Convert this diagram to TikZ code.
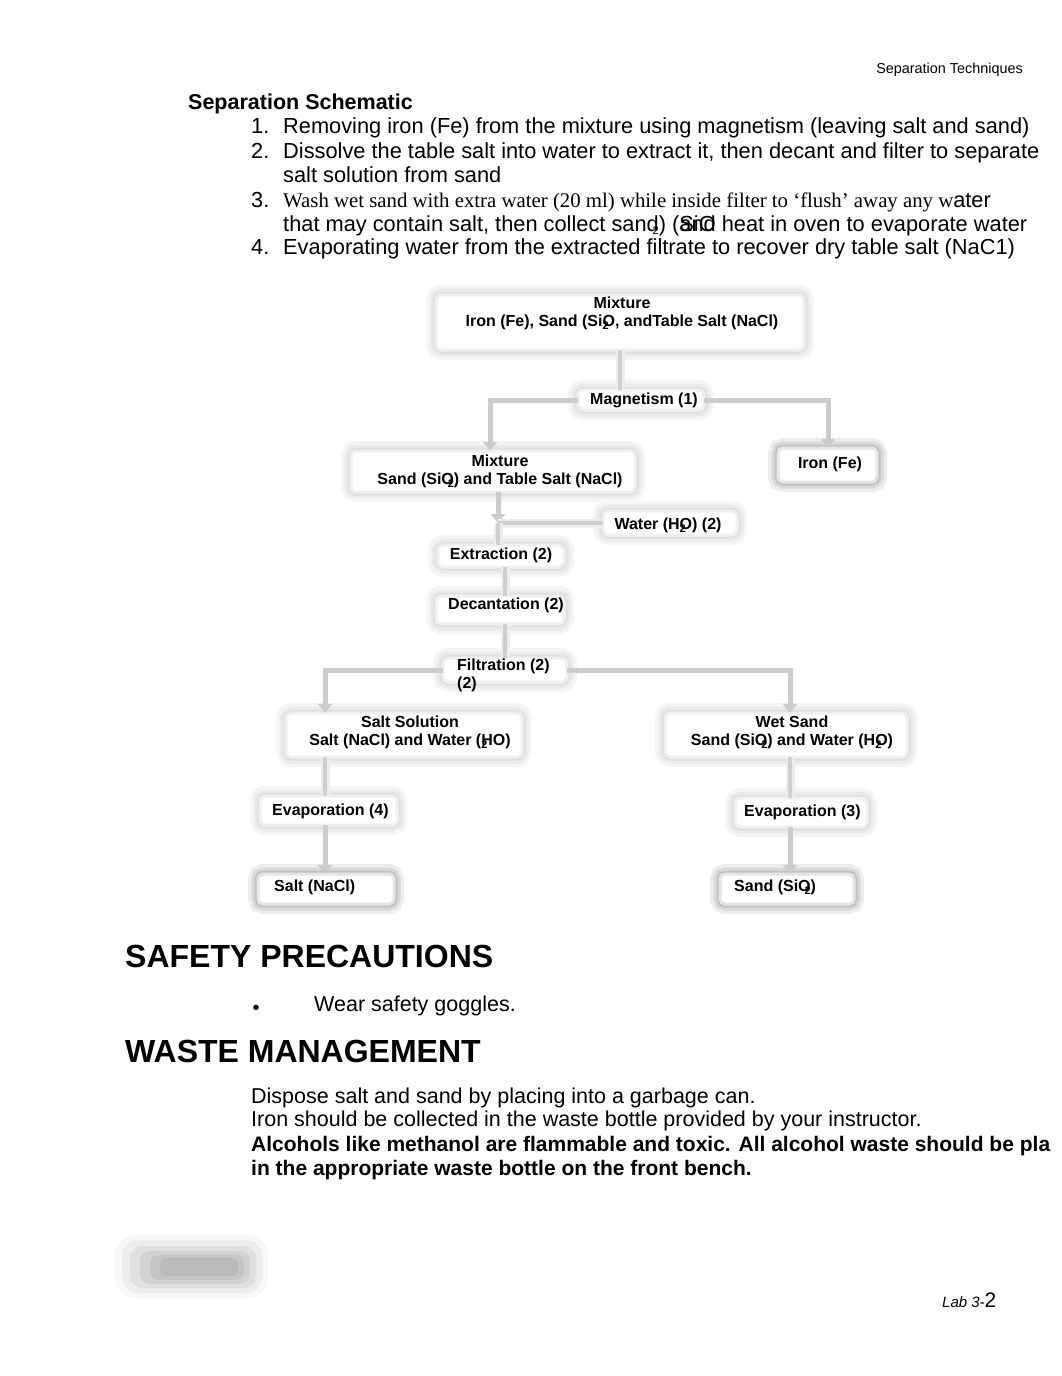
\documentclass[tikz,border=0pt]{standalone}
\usepackage{fontspec}
\setmainfont{Liberation Sans}
\newfontfamily\serifface{Liberation Serif}
\usetikzlibrary{arrows.meta}
\newcommand\fsz[1]{\fontsize{#1}{#1}\selectfont}
\newcommand\ovtwo{\rlap{\raisebox{-3pt}{\fsz{11}2}}}
\newcommand\bktwo{\llap{\raisebox{-3pt}{\fsz{11}2}}}
\tikzset{
  txt/.style={inner sep=0pt, anchor=base west},
  dtxt/.style={inner sep=0pt, align=center, font=\bfseries\fontsize{16}{18}\selectfont},
  box/.style={rectangle, rounded corners=5pt, inner sep=0pt, fill=white,
    preaction={draw=black!4, line width=20pt},
    preaction={draw=black!8, line width=13pt},
    preaction={draw=black!12, line width=7pt},
    postaction={draw=black!6, line width=3pt}},
  darkbox/.style={rectangle, rounded corners=5pt, inner sep=0pt, fill=white,
    preaction={draw=black!7, line width=20pt},
    preaction={draw=black!15, line width=13pt},
    preaction={draw=black!24, line width=7pt},
    postaction={draw=black!10, line width=3pt}},
  conn/.style={draw=black!19, line width=4pt, preaction={draw=black!7, line width=9pt}},
  arr/.style={draw=black!20, line width=5pt, -{Triangle[length=9pt,width=14pt]}},
}
\begin{document}
\begin{tikzpicture}[x=1pt,y=-1pt]
\fill[white] (0,0) rectangle (1062,1376);
\useasboundingbox (0,0) rectangle (1062,1376);

% header
\node[inner sep=0pt, anchor=base east, font=\fsz{14.4}] (hdr) at (1023,73) {Separation Techniques};
\node[txt, font=\bfseries\fsz{21.5}] (title) at (188,109) {Separation Schematic};

\begin{scope}[every node/.style={txt, font=\fsz{21.8}}]
\node (l1n) at (251,133) {1.};
\node (l1) at (283,133) {Removing iron (Fe) from the mixture using magnetism (leaving salt and sand)};
\node (l2n) at (251,158) {2.};
\node (l2) at (283,158) {Dissolve the table salt into water to extract it, then decant and filter to separate};
\node (l2b) at (283,182) {salt solution from sand};
\node (l3n) at (251,207) {3.};
\node (l3) at (283,207) {{\serifface\fsz{20.8}Wash wet sand with extra water (20 ml) while inside filter to ‘flush’ away any w}ater};
\node (l3b) at (283,231) {that may contain salt, then collect sand\bktwo) (\rlap{SiO}and heat in oven to evaporate water};
\node (l4n) at (251,254) {4.};
\node (l4) at (283,254) {Evaporating water from the extracted filtrate to recover dry table salt (NaC1)};
\end{scope}

% diagram boxes
\node[box, minimum width=368pt, minimum height=55pt] (mix1) at (620,322.5) {};
\node[box, minimum width=126pt, minimum height=20pt] (mag) at (641,400) {};
\node[box, minimum width=284pt, minimum height=41pt] (mix2) at (493,471.5) {};
\node[darkbox, minimum width=99pt, minimum height=34pt] (iron) at (827.5,465) {};
\node[box, minimum width=134pt, minimum height=24pt] (water) at (670,523) {};
\node[box, minimum width=126pt, minimum height=22pt] (extr) at (501,556) {};
\node[box, minimum width=128pt, minimum height=28pt] (dec) at (500,610) {};
\node[box, minimum width=124pt, minimum height=24pt] (filt) at (505,670) {};
\node[box, minimum width=236pt, minimum height=44pt] (salsol) at (404,735) {};
\node[box, minimum width=242pt, minimum height=44pt] (wet) at (786,735) {};
\node[box, minimum width=137pt, minimum height=29pt] (ev4) at (328.5,810.5) {};
\node[box, minimum width=132pt, minimum height=29pt] (ev3) at (801,812.5) {};
\node[darkbox, minimum width=136pt, minimum height=30pt] (salt) at (326,889) {};
\node[darkbox, minimum width=134pt, minimum height=30pt] (sand) at (787,889) {};

% connectors
\coordinate (j1) at (498,523);
\draw[conn] (620,0 |- mix1.south) -- (620,0 |- mag.north);
\draw[arr] (mag.west) -| (490,0 |- mix2.north);
\draw[arr] (mag.east) -| (828,0 |- iron.north);
\draw[arr] (498,0 |- mix2.south) -- (j1);
\draw[conn] (water.west) -- (j1);
\draw[conn] (j1) -- (498,0 |- extr.north);
\draw[conn] (505,0 |- extr.south) -- (505,0 |- dec.north);
\draw[conn] (505,0 |- dec.south) -- (505,0 |- filt.north);
\draw[arr] (filt.west) -| (325,0 |- salsol.north);
\draw[arr] (filt.east) -| (790,0 |- wet.north);
\draw[conn] (325,0 |- salsol.south) -- (325,0 |- ev4.north);
\draw[arr] (325,0 |- ev4.south) -- (325,0 |- salt.north);
\draw[conn] (790,0 |- wet.south) -- (790,0 |- ev3.north);
\draw[arr] (790,0 |- ev3.south) -- (790,0 |- sand.north);

% diagram texts
\node[dtxt] (t1) at (622,313) {Mixture\\Iron (Fe), Sand (Si\ovtwo O, andTable Salt (NaCl)};
\node[dtxt] (t2) at (644,400) {Magnetism (1)};
\node[dtxt] (t3) at (500,471) {Mixture\\Sand (SiO\bktwo) and Table Salt (NaCl)};
\node[dtxt] (t4) at (830,464) {Iron (Fe)};
\node[dtxt] (t5) at (668,525) {Water (H\ovtwo O) (2)};
\node[dtxt] (t6) at (501,555) {Extraction (2)};
\node[dtxt] (t7) at (506,605) {Decantation (2)};
\node[dtxt, align=left, anchor=west] (t8) at (457,675) {Filtration (2)\\(2)};
\node[dtxt] (t9) at (410,732) {Salt Solution\\Salt (NaCl) and Water (\ovtwo HO)};
\node[dtxt] (t10) at (792,732) {Wet Sand\\Sand (SiO\bktwo) and Water (H\ovtwo O)};
\node[dtxt, anchor=west] (t11) at (272,811) {Evaporation (4)};
\node[dtxt, anchor=west] (t12) at (744,812) {Evaporation (3)};
\node[dtxt, anchor=west] (t13) at (274,887) {Salt (NaCl)};
\node[dtxt, anchor=west] (t14) at (734,887) {Sand (SiO\bktwo)};

% safety
\node[txt, font=\bfseries\fsz{32}] (safe) at (125,967) {SAFETY PRECAUTIONS};
\node[inner sep=0pt, font=\fsz{20}] (bul) at (256,1010) {\textbullet};
\node[txt, font=\fsz{21.5}] (gog) at (314,1011) {Wear safety goggles.};
\node[txt, font=\bfseries\fsz{32}] (waste) at (125,1062) {WASTE MANAGEMENT};
\begin{scope}[every node/.style={txt, font=\fsz{21.5}}]
\node (w1) at (251,1103) {Dispose salt and sand by placing into a garbage can.};
\node (w2) at (251,1126) {Iron should be collected in the waste bottle provided by your instructor.};
\node[font=\bfseries\fsz{21}] (w3) at (251,1151) {Alcohols like methanol are flammable and toxic. All alcohol waste should be pla};
\node[font=\bfseries\fsz{21}] (w4) at (251,1175) {in the appropriate waste bottle on the front bench.};
\end{scope}

% blurred mark
\fill[black, opacity=0.03, rounded corners=20pt] (115,1235) rectangle (268,1298);
\fill[black, opacity=0.04, rounded corners=16pt] (122,1240) rectangle (262,1293);
\fill[black, opacity=0.05, rounded corners=12pt] (130,1246) rectangle (256,1288);
\fill[black, opacity=0.06, rounded corners=10pt] (140,1251) rectangle (250,1284);
\fill[black, opacity=0.06, rounded corners=8pt] (150,1255) rectangle (244,1280);
\fill[black, opacity=0.05, rounded corners=6pt] (160,1258) rectangle (238,1276);

% footer
\node[txt, font=\itshape\fsz{15}] (lab) at (942,1307) {Lab 3-\fsz{21}\upshape 2};
\end{tikzpicture}
\end{document}
